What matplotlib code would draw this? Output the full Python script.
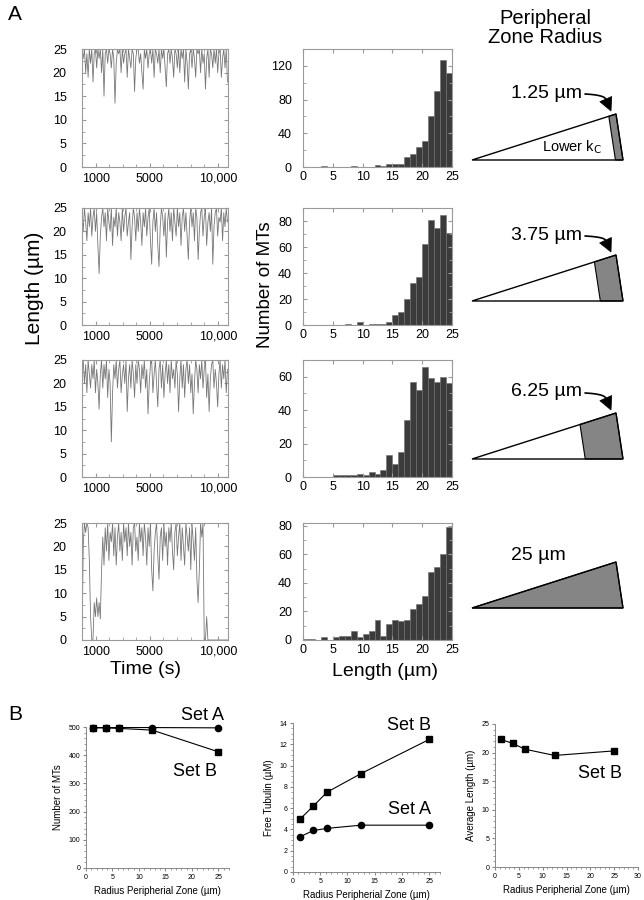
import numpy as np
import matplotlib.pyplot as plt
from matplotlib import patches
from matplotlib.ticker import MultipleLocator

plt.rcParams['font.family'] = ['Liberation Sans', 'DejaVu Sans']

W, H = 644, 900

# ---------------- data, panel A ----------------
dt = 90  # s between samples of the length traces
trace_r1 = [25,23,25,20,24,19,25,22,25,18,
            24,25,21,25,23,25,20,25,15,24,
            25,22,25,24,21,25,23,13.5,22,25,
            24,25,20,25,22,24,25,19,25,23,
            21,25,24,16,23,25,25,22,24,20,
            16.5,25,23,25,21,24,25,22,25,19,
            25,24,22,25,20,25,23,25,21,17,
            24,25,22,25,23,19,25,24,21,25,
            20,25,23,25,18,25,22,16.5,24,25,
            21,25,23,19,25,24,25,20,25,22,
            24,16.5,23,25,19,25,24,21,25,22,
            25,20,24,25,19,23,25,21,25,18]
trace_r2 = [24,20,25,22,18,24,21,25,19,23,
            25,20,24,17,11,19,23,25,21,24,
            18,25,22,20,25,17,23,21,25,19,
            24,22,18,25,20,23,25,19,22,24,
            14,21,25,23,18,24,20,25,22,17,
            24,21,25,19,23,25,18,13,22,25,
            20,24,17,12.5,21,25,23,19,24,14.5,
            22,25,20,24,18,25,22,19,25,21,
            24,17,23,25,20,24,19,14,22,25,
            21,24,18,25,23,14,20,24,25,19,
            23,25,17,22,24,20,25,13,21,24,
            25,19,23,22,25,18,24,21,25,22]
trace_r3 = [23,25,20,24,18,25,22,19,24,21,
            25,18,23,20,14.5,22,25,19,24,21,
            25,17,23,20,7.5,18,24,21,25,19,
            23,25,18,22,24,20,25,14,21,24,
            19,25,22,17,24,20,25,23,18,24,
            21,25,19,23,13.5,20,24,25,18,22,
            25,20,15,23,25,19,24,17,22,25,
            20,24,18,25,21,23,19,25,22,14,
            21,25,19,24,17,23,25,20,24,18,
            22,13.5,20,25,23,18,24,21,25,19,
            23,25,17,22,14,21,24,25,19,23,
            20,15,22,25,19,24,21,25,18,23]
trace_r4 = [0,20,25,23,25,24,17,5,0,0,
            8,5,9,5,8,4.5,15,22,16,24,
            19,25,17,23,21,25,18,24,16,22,
            25,19,23,17,25,21,24,18,25,20,
            23,16,24,25,19,22,17,25,21,24,
            18,25,22,16,24,20,25,15,10.5,19,
            23,25,18,13,22,24,17,25,20,23,
            16,24,21,25,19,15,23,25,18,22,
            25,17,24,20,16,25,22,19,24,15,
            25,21,17,24,13,8,15,25,22,25,
            0,0,5,0,0,0,0,0,0,0,
            0,0,0,0,0,0,0,0,0,0]
traces = [trace_r1, trace_r2, trace_r3, trace_r4]

bin_edges = np.arange(0, 26, 1)
counts_r1 = [0,0,0,1,0,0,0,0,1,0,0,0,2,1,3,4,4,12,15,24,31,61,90,127,112]
counts_r2 = [0,0,0,0,0,0,0,1,0,2,0,1,1,1,2,8,10,20,32,37,62,81,75,85,71]
counts_r3 = [0,0,0,0,0,1,1,1,1,2,1,3,2,4,13,8,15,34,57,52,66,59,57,60,56]
counts_r4 = [1,1,0,2,0,2,3,3,6,2,4,6,14,3,11,14,13,14,22,25,31,48,51,60,79]
hist_counts = [counts_r1, counts_r2, counts_r3, counts_r4]
hist_ymax = [140, 90, 70, 82]
hist_yticks = [[0, 40, 80, 120], [0, 20, 40, 60, 80], [0, 20, 40, 60], [0, 20, 40, 60, 80]]

radius_um = [1.25, 3.75, 6.25, 25]
radius_labels = ['1.25 µm', '3.75 µm', '6.25 µm', '25 µm']
full_radius = 25

# ---------------- data, panel B ----------------
radius_b = [1.25, 3.75, 6.25, 12.5, 25]
n_mts_a = [498, 498, 498, 498, 497]
n_mts_b = [497, 497, 495, 489, 412]
tubulin_a = [3.3, 3.9, 4.1, 4.4, 4.4]
tubulin_b = [4.95, 6.2, 7.5, 9.25, 12.45]
avg_len_b = [22.3, 21.6, 20.6, 19.5, 20.3]

fig = plt.figure(figsize=(W / 100, H / 100), dpi=100)


def px_axes(x0, y0, x1, y1):
    # box in pixels, origin top-left
    return fig.add_axes([x0 / W, 1 - y1 / H, (x1 - x0) / W, (y1 - y0) / H])


def frame(ax, col='#9a9a9a'):
    for s in ax.spines.values():
        s.set_color(col)
        s.set_linewidth(0.8)
    ax.tick_params(which='both', direction='in', top=True, right=True,
                   color=col, labelsize=9)
    ax.tick_params(which='major', length=3)
    ax.tick_params(which='minor', length=2)


row_top = [49, 208, 360, 523]
row_bot = [167, 325, 477, 640]

for r in range(4):
    # length vs time
    ax = px_axes(82, row_top[r], 228, row_bot[r])
    t = np.arange(len(traces[r])) * dt
    ax.plot(t, traces[r], color='#777777', lw=0.6)
    ax.set_xlim(0, 10750)
    ax.set_ylim(0, 25)
    ax.set_yticks([0, 5, 10, 15, 20, 25])
    ax.set_xticks([1000, 5000, 10000])
    ax.set_xticklabels(['1000', '5000', '10,000'])
    ax.xaxis.set_minor_locator(MultipleLocator(1000))
    ax.yaxis.set_minor_locator(MultipleLocator(2.5))
    frame(ax)
    ax.tick_params(axis='y', pad=11)
    ax.tick_params(axis='x', pad=4)

    # histogram
    hx = px_axes(303, row_top[r], 452, row_bot[r])
    hx.bar(bin_edges[:-1], hist_counts[r], width=1, align='edge',
           color='#3b3b3b', edgecolor='#6e6e6e', linewidth=0.4)
    hx.set_xlim(0, 25)
    hx.set_ylim(0, hist_ymax[r])
    hx.set_xticks([0, 5, 10, 15, 20, 25])
    hx.set_yticks(hist_yticks[r])
    step = hist_yticks[r][1] - hist_yticks[r][0]
    hx.yaxis.set_minor_locator(MultipleLocator(step / 2))
    frame(hx)
    hx.tick_params(axis='y', pad=8)
    hx.tick_params(axis='x', pad=3)

fig.text(35 / W, 1 - 288 / H, 'Length (µm)', rotation=90, fontsize=15,
         ha='center', va='center')
fig.text(266 / W, 1 - 285 / H, 'Number of MTs', rotation=90, fontsize=13.5,
         ha='center', va='center')
fig.text(145 / W, 1 - 670 / H, 'Time (s)', fontsize=14, ha='center', va='center')
fig.text(385 / W, 1 - 672 / H, 'Length (µm)', fontsize=14, ha='center', va='center')
fig.text(545 / W, 1 - 28 / H, 'Peripheral\nZone Radius', fontsize=14.5,
         ha='center', va='center', linespacing=1.05)
fig.text(8 / W, 1 - 14 / H, 'A', fontsize=15, ha='left', va='center')
fig.text(8 / W, 1 - 715 / H, 'B', fontsize=15, ha='left', va='center')


# ---------------- panel B ----------------
def b_axes(ax, xmax, xminor, yminor):
    for s in ['top', 'right']:
        ax.spines[s].set_visible(False)
    for s in ['left', 'bottom']:
        ax.spines[s].set_color('#888888')
        ax.spines[s].set_linewidth(0.7)
    ax.set_xlim(0, xmax)
    ax.xaxis.set_minor_locator(MultipleLocator(xminor))
    ax.yaxis.set_minor_locator(MultipleLocator(yminor))
    ax.tick_params(which='both', direction='out', labelsize=5, color='#888888', pad=1.5)
    ax.tick_params(which='major', length=2.5)
    ax.tick_params(which='minor', length=1.2)
    ax.set_xlabel('Radius Peripherial Zone (µm)', fontsize=7, labelpad=4)


b1 = px_axes(86, 727, 229, 868)
b1.plot(radius_b, n_mts_a, '-o', color='k', lw=0.8, ms=4.5, clip_on=False)
b1.plot(radius_b, n_mts_b, '-s', color='k', lw=0.8, ms=4.5, clip_on=False)
b1.set_ylim(0, 500)
b1.set_xticks([0, 5, 10, 15, 20, 25])
b1.set_yticks([0, 100, 200, 300, 400, 500])
b_axes(b1, 27, 1, 20)
b1.set_ylabel('Number of MTs', fontsize=7, labelpad=4)

b2 = px_axes(293, 723, 440, 872)
b2.plot(radius_b, tubulin_a, '-o', color='k', lw=0.8, ms=4.5, clip_on=False)
b2.plot(radius_b, tubulin_b, '-s', color='k', lw=0.8, ms=4.5, clip_on=False)
b2.set_ylim(0, 14)
b2.set_xticks([0, 5, 10, 15, 20, 25])
b2.set_yticks(range(0, 15, 2))
b_axes(b2, 27, 1, 0.5)
b2.set_ylabel('Free Tubulin (µM)', fontsize=7, labelpad=4)

b3 = px_axes(495, 724, 638, 867)
b3.plot(radius_b, avg_len_b, '-s', color='k', lw=0.8, ms=4.5, clip_on=False)
b3.set_ylim(0, 25)
b3.set_xticks(range(0, 31, 5))
b3.set_yticks(range(0, 26, 5))
b_axes(b3, 30, 1, 1)
b3.set_ylabel('Average Length (µm)', fontsize=7, labelpad=4)

# ---------------- overlay in pixel space: wedges, arrows, set names ----------------
ov = fig.add_axes([0, 0, 1, 1])
ov.set_xlim(0, W)
ov.set_ylim(H, 0)
ov.axis('off')
ov.patch.set_alpha(0)

ov.text(203, 715, 'Set A', fontsize=13, ha='center', va='center')
ov.text(195, 772, 'Set B', fontsize=13, ha='center', va='center')
ov.text(409, 725, 'Set B', fontsize=13, ha='center', va='center')
ov.text(410, 810, 'Set A', fontsize=13, ha='center', va='center')
ov.text(600, 773, 'Set B', fontsize=13, ha='center', va='center')


def curved_arrow(p0, p1, ctrl, head_len=13, head_w=6.5):
    p0, p1, ctrl = map(np.asarray, (p0, p1, ctrl))
    d = p1 - ctrl
    d = d / np.hypot(*d)
    base = p1 - head_len * d
    s = np.linspace(0, 1, 40)[:, None]
    curve = (1 - s) ** 2 * p0 + 2 * (1 - s) * s * ctrl + s ** 2 * base
    ov.plot(curve[:, 0], curve[:, 1], color='k', lw=1.2, solid_capstyle='round')
    n = np.array([-d[1], d[0]])
    ov.add_patch(patches.Polygon([p1, base + head_w * n, base - head_w * n],
                                 closed=True, facecolor='k', edgecolor='k', lw=0.5))


wedge_base = [160, 301, 459, 608]
label_y = [93, 235, 392, 555]
for r in range(4):
    y0 = wedge_base[r]
    apex = np.array([472.0, y0])
    top = np.array([616.0, y0 - 46])
    bot = np.array([623.0, y0])
    f = radius_um[r] / full_radius
    zone = [top, bot, bot - f * (bot - apex), top - f * (top - apex)]
    ov.add_patch(patches.Polygon(zone, closed=True, facecolor='#858585',
                                 edgecolor='k', lw=0.8))
    ov.add_patch(patches.Polygon([apex, top, bot], closed=True, facecolor='none',
                                 edgecolor='k', lw=1.0))
    if r < 3:
        ov.text(547, label_y[r], radius_labels[r], fontsize=14, ha='center', va='center')
        curved_arrow((585, label_y[r] + 1), (611, y0 - 49), (604, label_y[r] + 2))
    else:
        ov.text(538, label_y[r], radius_labels[r], fontsize=14, ha='center', va='center')

ov.text(572, 147, r'Lower k$_\mathrm{C}$', fontsize=10.5, ha='center', va='center')

fig.savefig('out.png', dpi=100)
